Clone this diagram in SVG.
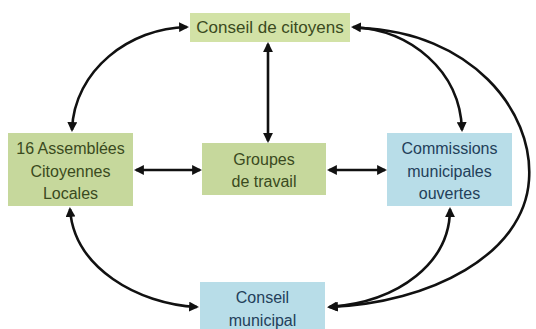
<svg xmlns="http://www.w3.org/2000/svg" width="536" height="329" viewBox="0 0 536 329">
<style>
.g{fill:#c6d89c}
.b{fill:#b8dde8}
text{font-family:"Liberation Sans",Arial,sans-serif;font-size:16px;text-anchor:middle}
.tg{fill:#3a4a20}
.tb{fill:#23405a}
.c{fill:none;stroke:#111;stroke-width:2.6}
</style>
<defs>
<marker id="ah" viewBox="0 0 10 10" refX="8" refY="5" markerWidth="3.8" markerHeight="3.8" orient="auto-start-reverse" markerUnits="strokeWidth">
<path d="M0,0 L10,5 L0,10 z" fill="#111"/>
</marker>
</defs>
<rect width="536" height="329" fill="#fff"/>
<g id="connectors">
<path class="c" d="M187,27 C130,28 74,70 72,130" marker-start="url(#ah)" marker-end="url(#ah)"/>
<path class="c" d="M268,44 L268,141" marker-start="url(#ah)" marker-end="url(#ah)"/>
<path class="c" d="M136,170 L200,170" marker-start="url(#ah)" marker-end="url(#ah)"/>
<path class="c" d="M329,170 L385,170" marker-start="url(#ah)" marker-end="url(#ah)"/>
<path class="c" d="M353,27 C410,30 460,70 462,130" marker-start="url(#ah)" marker-end="url(#ah)"/>
<path class="c" d="M360,28 C470,32 534,110 529,180 C524,255 430,303 330,307" marker-end="url(#ah)"/>
<path class="c" d="M450,209 C450,262 400,302 329,307" marker-start="url(#ah)" marker-end="url(#ah)"/>
<path class="c" d="M70,209 C74,268 138,304 197,307" marker-start="url(#ah)" marker-end="url(#ah)"/>
</g>
<g id="conseil-citoyens">
<rect x="190" y="13" width="160" height="29" fill="#d2e2a6"/>
<text class="tg" x="270" y="33" style="font-size:17px">Conseil de citoyens</text>
</g>
<g id="assemblees">
<rect class="g" x="8" y="133" width="125" height="73"/>
<text class="tg" x="70.5" y="154">16 Assemblées</text>
<text class="tg" x="70.5" y="177">Citoyennes</text>
<text class="tg" x="70.5" y="199">Locales</text>
</g>
<g id="groupes">
<rect class="g" x="202" y="143" width="124" height="52"/>
<text class="tg" x="264" y="165">Groupes</text>
<text class="tg" x="264" y="187">de travail</text>
</g>
<g id="commissions">
<rect class="b" x="387" y="133" width="125" height="73"/>
<text class="tb" x="449.5" y="154">Commissions</text>
<text class="tb" x="449.5" y="177">municipales</text>
<text class="tb" x="449.5" y="199">ouvertes</text>
</g>
<g id="conseil-municipal">
<rect class="b" x="200" y="282" width="125" height="52"/>
<text class="tb" x="262.5" y="303">Conseil</text>
<text class="tb" x="262.5" y="326">municipal</text>
</g>
</svg>
